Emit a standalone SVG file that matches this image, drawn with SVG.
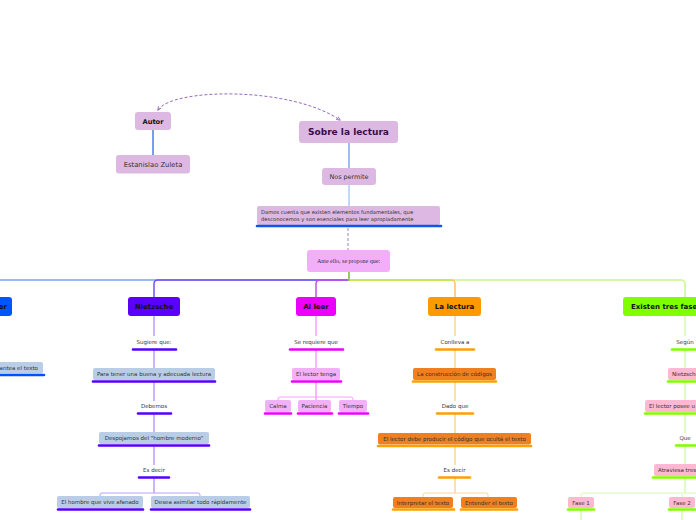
<svg xmlns="http://www.w3.org/2000/svg" width="696" height="520" viewBox="0 0 696 520">
<defs>
<style>
text{font-family:"DejaVu Sans","Liberation Sans",sans-serif;}
text.serif{font-family:"Liberation Serif",serif;}
.t{font-size:5.5px;fill:#333;text-anchor:middle}
.main{font-size:7px;font-weight:bold;fill:#111;text-anchor:middle}
.top{fill:#dcb8e2}
.c{fill:none;stroke-width:1.5}
.ul{stroke-width:2.6;stroke-linecap:round}
.bN{fill:#b9cde6}
.bA{fill:#f2b0f9}
.bL{fill:#ef7f1f}
.bE{fill:#ffb8d2}
.uN{stroke:#5500ff}
.uA{stroke:#ee00ff}
.uL{stroke:#ffa000}
.uE{stroke:#80ff00}
.uB{stroke:#0050ff}
.cN{stroke:#bb9dff}
.cA{stroke:#f6a0ff}
.cL{stroke:#ffd49a}
.cE{stroke:#d6fbb0}
</style>
<marker id="arr" viewBox="0 0 6 6" refX="5" refY="3" markerWidth="5" markerHeight="5" orient="auto-start-reverse"><path d="M0,0.5 L5.5,3 L0,5.5" fill="none" stroke="#8a5ab0" stroke-width="1"/></marker>
</defs>

<g id="connectors">
<line x1="153" y1="130" x2="153" y2="155" class="c" stroke="#4a7ee8"/>
<path d="M158,110 C172,88 290,86 340,120" fill="none" stroke="#8a5ab0" stroke-width="0.9" stroke-dasharray="3,2" marker-start="url(#arr)" marker-end="url(#arr)"/>
<line x1="349" y1="143" x2="349" y2="168" class="c" stroke="#7fa6f2"/>
<line x1="349" y1="185" x2="349" y2="206" class="c" stroke="#b0c8f8"/>
<line x1="348" y1="228" x2="348" y2="250" stroke="#9a82b8" stroke-width="1" stroke-dasharray="3,2"/>
<path d="M349,272 V280 H0" class="c" stroke="#7aa2f2"/>
<path d="M349,280 H158 Q154,280 154,284 V297" class="c" stroke="#7a4cf5"/>
<path d="M349,280 H320 Q316,280 316,284 V297" class="c" stroke="#c050f0"/>
<path d="M349,280 H681 Q685,280 685,284 V297" class="c" stroke="#c8f890"/>
<path d="M349,280 H451" class="c" stroke="#c2e038"/>
<path d="M451,280 Q455,280 455,284 V297" class="c" stroke="#ffbe6a"/>
<line x1="349" y1="271" x2="349" y2="281" class="c" stroke="#9acd32"/>

<g class="c cN">
<path d="M154,316 V336 M154,350 V368 M154,382 V401 M154,414 V432 M154,446 V465 M154,478 V493"/>
<path d="M100,497 V495 Q100,493 102,493 H198 Q200,493 200,495 V497" stroke-width="1"/>
</g>
<g class="c cA">
<path d="M316,315 V336 M316,350 V368 M316,382 V400"/>
<path d="M278,400 V399 Q278,397 280,397 H351 Q353,397 353,399 V400" stroke-width="1"/>
</g>
<g class="c cL">
<path d="M455,315 V336 M455,350 V368 M455,382 V401 M455,414 V433 M455,447 V465 M455,478 V493"/>
<path d="M423,497 V495 Q423,493 425,493 H486 Q488,493 488,495 V497" stroke-width="1"/>
</g>
<g class="c cE">
<path d="M685,315 V336 M685,350 V368 M685,382 V400 M685,414 V433 M685,446 V464 M685,478 V493"/>
<path d="M581,497 V495 Q581,493 583,493 H696 M682,493 V497" stroke-width="1"/>
<path d="M581,510 V520 M682,510 V520"/>
</g>
</g>

<g id="autor">
<rect x="135" y="112" width="36" height="18" rx="3" class="top"/>
<text x="153" y="123.5" font-size="6.7" font-weight="bold" fill="#111" text-anchor="middle">Autor</text>
</g>
<g id="estanislao">
<rect x="116" y="155" width="74" height="18.5" rx="3" class="top"/>
<text x="153" y="166.5" font-size="6.8" fill="#333" text-anchor="middle">Estanislao Zuleta</text>
</g>
<g id="sobre">
<rect x="299" y="121" width="99" height="22" rx="3" class="top"/>
<text x="348.5" y="135.2" font-size="9" font-weight="bold" fill="#3a0d4a" text-anchor="middle">Sobre la lectura</text>
</g>
<g id="nospermite">
<rect x="322" y="168" width="54" height="17" rx="3" class="top"/>
<text x="349" y="178.8" font-size="6.4" fill="#333" text-anchor="middle">Nos permite</text>
</g>
<g id="damos">
<rect x="257" y="206" width="183" height="19" rx="2" class="top"/>
<line x1="257" y1="226" x2="441" y2="226" class="ul" stroke="#1055ee"/>
<text x="261" y="214" font-size="5.2" fill="#333">Damos cuenta que existen elementos fundamentales, que</text>
<text x="261" y="221" font-size="5.2" fill="#333">desconocemos y son esenciales para leer apropiadamente</text>
</g>
<g id="ante">
<rect x="307" y="250" width="83" height="22" rx="3" fill="#f2aef8"/>
<text x="348.5" y="263" font-size="6" class="serif" fill="#333" text-anchor="middle">Ante ello, se propone que:</text>
</g>

<g id="leftnode">
<rect x="-40" y="297" width="52" height="19" rx="3" fill="#0055ff"/>
<text x="7" y="308.5" class="main" style="text-anchor:end">er</text>
</g>
<g id="leftsub">
<rect x="-40" y="362" width="83" height="11.5" rx="2" class="bN"/>
<line x1="-40" y1="375" x2="44" y2="375" class="ul uB"/>
<text x="38" y="369.8" class="t" style="text-anchor:end">antea el texto</text>
</g>

<g id="nietzsche">
<rect x="128" y="297" width="52" height="19" rx="3" fill="#5a00ff"/>
<text x="154" y="308.5" class="main">Nietzsche</text>
</g>
<g id="sugiere">
<text x="154" y="344" class="t">Sugiere que:</text>
<line x1="133" y1="349.5" x2="176" y2="349.5" class="ul uN"/>
</g>
<g id="paratener">
<rect x="93" y="368" width="122" height="12" rx="2" class="bN"/>
<line x1="93" y1="381.5" x2="215" y2="381.5" class="ul uN"/>
<text x="154" y="376" class="t">Para tener una buena y adecuada lectura</text>
</g>
<g id="debemos">
<text x="154" y="408" class="t">Debemos</text>
<line x1="138" y1="413.5" x2="171" y2="413.5" class="ul uN"/>
</g>
<g id="despojarnos">
<rect x="99" y="432" width="110" height="12" rx="2" class="bN"/>
<line x1="99" y1="445.5" x2="209" y2="445.5" class="ul uN"/>
<text x="154" y="440" class="t">Despojarnos del  "hombre moderno"</text>
</g>
<g id="esdecir1">
<text x="154" y="472" class="t">Es decir</text>
<line x1="139" y1="477.5" x2="169" y2="477.5" class="ul uN"/>
</g>
<g id="hombre">
<rect x="57" y="496" width="86" height="12" rx="2" class="bN"/>
<line x1="58" y1="509.5" x2="143" y2="509.5" class="ul uN"/>
<text x="100" y="504" class="t">El hombre que vive afanado</text>
</g>
<g id="desea">
<rect x="151" y="496" width="99" height="12" rx="2" class="bN"/>
<line x1="151" y1="509.5" x2="250" y2="509.5" class="ul uN"/>
<text x="200.5" y="504" class="t">Desea asimilar todo rápidamente</text>
</g>

<g id="alleer">
<rect x="296" y="297" width="40" height="19" rx="3" fill="#ee00ff"/>
<text x="316" y="308.5" class="main">Al leer</text>
</g>
<g id="serequiere">
<text x="316" y="344" class="t">Se requiere que</text>
<line x1="290" y1="349.5" x2="343" y2="349.5" class="ul uA"/>
</g>
<g id="lectortenga">
<rect x="292" y="368" width="48" height="12" rx="2" class="bA"/>
<line x1="292" y1="381.5" x2="341" y2="381.5" class="ul uA"/>
<text x="316" y="376" class="t">El lector tenga</text>
</g>
<g id="calma">
<rect x="265" y="400" width="26" height="12" rx="2" class="bA"/>
<line x1="265" y1="413.5" x2="291" y2="413.5" class="ul uA"/>
<text x="278" y="408" class="t">Calma</text>
</g>
<g id="paciencia">
<rect x="298" y="400" width="33" height="12" rx="2" class="bA"/>
<line x1="298" y1="413.5" x2="332" y2="413.5" class="ul uA"/>
<text x="314.5" y="408" class="t">Paciencia</text>
</g>
<g id="tiempo">
<rect x="339" y="400" width="28" height="12" rx="2" class="bA"/>
<line x1="339" y1="413.5" x2="368" y2="413.5" class="ul uA"/>
<text x="353" y="408" class="t">Tiempo</text>
</g>

<g id="lalectura">
<rect x="428" y="297" width="53" height="19" rx="3" fill="#ff9900"/>
<text x="454.5" y="308.5" class="main">La lectura</text>
</g>
<g id="conlleva">
<text x="455" y="344" class="t">Conlleva a</text>
<line x1="436" y1="349.5" x2="474" y2="349.5" class="ul uL"/>
</g>
<g id="construccion">
<rect x="413" y="368" width="83" height="12" rx="2" class="bL"/>
<line x1="413" y1="381.5" x2="496" y2="381.5" class="ul uL"/>
<text x="454.5" y="376" class="t">La construcción de códigos</text>
</g>
<g id="dadoque">
<text x="455" y="408" class="t">Dado que</text>
<line x1="437" y1="413.5" x2="473" y2="413.5" class="ul uL"/>
</g>
<g id="producir">
<rect x="378" y="433" width="153" height="11.5" rx="2" class="bL"/>
<line x1="378" y1="446" x2="531" y2="446" class="ul uL"/>
<text x="454.5" y="440.8" class="t">El lector debe producir el código que ocultá el  texto</text>
</g>
<g id="esdecir2">
<text x="454.5" y="472" class="t">Es decir</text>
<line x1="439" y1="477.5" x2="470" y2="477.5" class="ul uL"/>
</g>
<g id="interpretar">
<rect x="393" y="497" width="60" height="11" rx="2" class="bL"/>
<line x1="393" y1="509.5" x2="454" y2="509.5" class="ul uL"/>
<text x="423" y="504.5" class="t">Interpretar el texto</text>
</g>
<g id="entender">
<rect x="461" y="497" width="56" height="11" rx="2" class="bL"/>
<line x1="461" y1="509.5" x2="517" y2="509.5" class="ul uL"/>
<text x="489" y="504.5" class="t">Entender el texto</text>
</g>

<g id="existen">
<rect x="623" y="297" width="90" height="19" rx="3" fill="#80ff00"/>
<text x="631" y="308.5" class="main" style="text-anchor:start">Existen tres fases</text>
</g>
<g id="segun">
<text x="685" y="344" class="t">Según</text>
<line x1="672" y1="349.5" x2="700" y2="349.5" class="ul uE"/>
</g>
<g id="nietzsche2">
<rect x="668" y="368" width="40" height="12" rx="2" class="bE"/>
<line x1="668" y1="381.5" x2="705" y2="381.5" class="ul uE"/>
<text x="672" y="376" class="t" style="text-anchor:start">Nietzsche</text>
</g>
<g id="lectorposee">
<rect x="645" y="400" width="60" height="12" rx="2" class="bE"/>
<line x1="645" y1="413.5" x2="705" y2="413.5" class="ul uE"/>
<text x="649" y="408" class="t" style="text-anchor:start">El lector posee u</text>
</g>
<g id="que">
<text x="685" y="440" class="t">Que</text>
<line x1="676" y1="445.5" x2="700" y2="445.5" class="ul uE"/>
</g>
<g id="atraviesa">
<rect x="654" y="464" width="60" height="12" rx="2" class="bE"/>
<line x1="653" y1="477.5" x2="705" y2="477.5" class="ul uE"/>
<text x="658" y="472" class="t" style="text-anchor:start">Atraviesa tres</text>
</g>
<g id="fase1">
<rect x="568" y="497" width="26" height="11" rx="2" class="bE"/>
<line x1="568" y1="509.5" x2="594" y2="509.5" class="ul uE"/>
<text x="581" y="504.5" class="t">Fase 1</text>
</g>
<g id="fase2">
<rect x="669" y="497" width="26" height="11" rx="2" class="bE"/>
<line x1="669" y1="509.5" x2="695" y2="509.5" class="ul uE"/>
<text x="682" y="504.5" class="t">Fase 2</text>
</g>
</svg>
